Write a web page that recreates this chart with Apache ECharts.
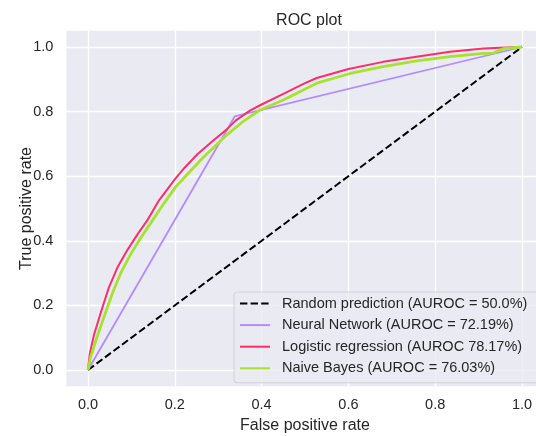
<!DOCTYPE html>
<html>
<head>
<meta charset="utf-8">
<script src="https://cdn.jsdelivr.net/npm/echarts@6/dist/echarts.min.js"></script>
<style>
html,body{margin:0;padding:0;background:#fff;}
#chart{width:536px;height:436px;}
</style>
</head>
<body>
<div id="chart"></div>
<script>
const tickValues = [0, 0.2, 0.4, 0.6, 0.8, 1.0];

const randomFpr = [0, 1];
const randomTpr = [0, 1];

const nnFpr = [0, 0.338, 1];
const nnTpr = [0, 0.785, 1];

const lrFpr = [0, 0.004, 0.014, 0.03, 0.048, 0.068, 0.091, 0.114, 0.137, 0.164, 0.2, 0.221, 0.252, 0.29, 0.32, 0.34, 0.373, 0.4, 0.45, 0.5, 0.527, 0.6, 0.68, 0.757, 0.834, 0.911, 0.95, 1];
const lrTpr = [0, 0.05, 0.11, 0.18, 0.255, 0.318, 0.372, 0.42, 0.464, 0.526, 0.59, 0.624, 0.668, 0.712, 0.745, 0.772, 0.803, 0.822, 0.855, 0.888, 0.904, 0.932, 0.954, 0.97, 0.985, 0.995, 0.998, 1];

const nbFpr = [0, 0.006, 0.021, 0.037, 0.056, 0.075, 0.098, 0.118, 0.144, 0.175, 0.202, 0.229, 0.263, 0.32, 0.358, 0.396, 0.45, 0.527, 0.604, 0.68, 0.757, 0.834, 0.911, 0.934, 0.957, 1];
const nbTpr = [0, 0.04, 0.103, 0.165, 0.237, 0.299, 0.358, 0.402, 0.454, 0.516, 0.567, 0.606, 0.655, 0.728, 0.77, 0.805, 0.836, 0.888, 0.918, 0.939, 0.957, 0.97, 0.98, 0.981, 0.995, 1];

const seriesNames = [
  'Random prediction (AUROC = 50.0%)',
  'Neural Network (AUROC = 72.19%)',
  'Logistic regression (AUROC 78.17%)',
  'Naive Bayes (AUROC = 76.03%)'
];

function pairs(xs, ys) { return xs.map((x, i) => [x, ys[i]]); }

const TXT = '#262626';
const FONT = '"Liberation Sans", Arial, sans-serif';

const chart = echarts.init(document.getElementById('chart'), null, {renderer: 'canvas'});
chart.setOption({
  animation: false,
  backgroundColor: '#ffffff',
  title: {
    text: 'ROC plot',
    left: 304, top: 8, textAlign: 'center',
    textStyle: {color: TXT, fontFamily: FONT, fontSize: 16, fontWeight: 'normal'}
  },
  grid: {
    left: 66.3, top: 30.85, width: 477.4, height: 355.3,
    outerBoundsMode: 'none', containLabel: false,
    show: true, backgroundColor: '#EAEAF2', borderWidth: 0
  },
  xAxis: {
    type: 'value', min: -0.05, max: 1.05,
    name: 'False positive rate', nameLocation: 'middle', nameGap: 31, nameMoveOverlap: false,
    nameTextStyle: {color: TXT, fontFamily: FONT, fontSize: 16},
    axisLine: {show: false},
    axisTick: {show: false, customValues: tickValues},
    axisLabel: {customValues: tickValues, color: TXT, fontFamily: FONT, fontSize: 14.5, margin: 11,
      formatter: v => v.toFixed(1)},
    splitLine: {show: true, lineStyle: {color: '#ffffff', width: 1.3}}
  },
  yAxis: {
    type: 'value', min: -0.05, max: 1.05,
    name: 'True positive rate', nameLocation: 'middle', nameGap: 32, nameRotate: 90, nameMoveOverlap: false,
    nameTextStyle: {color: TXT, fontFamily: FONT, fontSize: 16},
    axisLine: {show: false},
    axisTick: {show: false, customValues: tickValues},
    axisLabel: {customValues: tickValues, color: TXT, fontFamily: FONT, fontSize: 14.5, margin: 13,
      formatter: v => v.toFixed(1)},
    splitLine: {show: true, lineStyle: {color: '#ffffff', width: 1.3}}
  },
  legend: {
    orient: 'vertical', left: 234, top: 292,
    padding: [4, 12, 7, 5],
    itemWidth: 30, itemHeight: 14, itemGap: 6.6,
    backgroundColor: 'rgba(234,234,242,0.8)',
    borderColor: 'rgba(204,204,204,0.8)', borderWidth: 1, borderRadius: 3,
    itemStyle: {opacity: 0},
    textStyle: {color: TXT, fontFamily: FONT, fontSize: 14.5, padding: [0, 0, 0, 7]},
    data: seriesNames
  },
  series: [
    {name: seriesNames[0], type: 'line', data: pairs(randomFpr, randomTpr), symbol: 'none',
      lineStyle: {color: '#000000', width: 2, type: [7.4, 3.2]}, itemStyle: {color: '#000000'}},
    {name: seriesNames[1], type: 'line', data: pairs(nnFpr, nnTpr), symbol: 'none',
      lineStyle: {color: '#B28CFF', width: 1.8}, itemStyle: {color: '#B28CFF'}},
    {name: seriesNames[2], type: 'line', data: pairs(lrFpr, lrTpr), symbol: 'none',
      lineStyle: {color: '#FF2D6E', width: 2}, itemStyle: {color: '#FF2D6E'}},
    {name: seriesNames[3], type: 'line', data: pairs(nbFpr, nbTpr), symbol: 'none',
      lineStyle: {color: '#A6E22E', width: 2.8}, itemStyle: {color: '#A6E22E'}}
  ]
});
</script>
</body>
</html>
